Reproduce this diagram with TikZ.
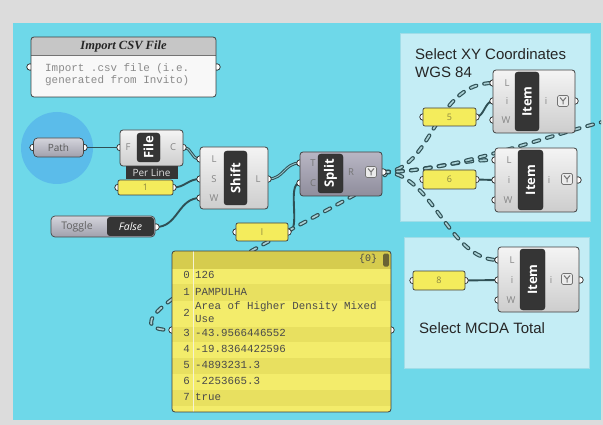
\documentclass[tikz,border=0pt]{standalone}
\usepackage{fontspec}
\setmainfont{Liberation Sans}
\newfontfamily\uifont{Open Sans}
\newfontfamily\panelfont{Liberation Mono}
\newfontfamily\titlefont{Liberation Serif}
\usetikzlibrary{calc}
\pgfdeclarelayer{back}
\pgfdeclarelayer{wires}
\pgfsetlayers{back,wires,main}

\definecolor{outerBg}{HTML}{DCDCDC}
\definecolor{canvasCyan}{HTML}{6ED8E9}
\definecolor{grpFill}{HTML}{C4EDF5}
\definecolor{grpLine}{HTML}{A0DDE8}
\definecolor{haloBlue}{HTML}{5BBCEA}
\definecolor{wireCol}{HTML}{2F5055}
\definecolor{wireLight}{HTML}{8FC3CA}
\definecolor{treeIn}{HTML}{A9D0D5}
\definecolor{compTop}{HTML}{F4F4F4}
\definecolor{compBot}{HTML}{CDCDCD}
\definecolor{splitTop}{HTML}{B8B6C4}
\definecolor{splitBot}{HTML}{8F8D9C}
\definecolor{nickFill}{HTML}{353535}
\definecolor{labelGrey}{HTML}{858585}
\definecolor{pillTop}{HTML}{D4D4DC}
\definecolor{pillBot}{HTML}{A0A0AC}
\definecolor{panelYellow}{HTML}{F4EC5C}
\definecolor{panelText}{HTML}{8C8740}
\definecolor{rowA}{HTML}{F3EC6B}
\definecolor{rowB}{HTML}{E8E060}
\definecolor{headFill}{HTML}{D6CC4E}
\definecolor{cellText}{HTML}{4A4A4A}
\definecolor{knob}{HTML}{6A6434}
\definecolor{noteHead}{HTML}{C6C6C6}
\definecolor{noteBody}{HTML}{F8F8F8}
\definecolor{noteText}{HTML}{8A8A8A}

\tikzset{
  ghbody/.style={draw=black!75, line width=0.8pt, rounded corners=3pt,
    top color=compTop, bottom color=compBot, inner sep=0pt},
  splitbody/.style={ghbody, top color=splitTop, bottom color=splitBot},
  nickbox/.style={fill=nickFill, draw=black!85, line width=0.4pt, rounded corners=3pt,
    inner sep=0pt, rotate=90, text=white, font=\uifont\bfseries\fontsize{13}{13}\selectfont},
  plabel/.style={inner sep=0pt, text=labelGrey, font=\uifont\fontsize{9.5}{9.5}\selectfont},
  port/.style={circle, draw=black!85, fill=white, line width=0.7pt, minimum size=6.5pt, inner sep=0pt},
  pill/.style={draw=black!72, line width=0.7pt, rounded corners=4pt, top color=pillTop,
    bottom color=pillBot, inner sep=0pt, text=black!65, font=\uifont\fontsize{10}{10}\selectfont},
  minipanel/.style={draw=black!75, line width=0.7pt, rounded corners=2pt, fill=panelYellow,
    inner sep=0pt, text=panelText, font=\uifont\fontsize{9}{9}\selectfont},
  grp/.style={draw=grpLine, line width=0.8pt, fill=grpFill, inner sep=0pt},
  grptitle/.style={inner sep=0pt, anchor=west, text=black!85, font=\fontsize{15}{15}\selectfont},
  yicon/.style={draw=black!55, fill=white!92!black, rounded corners=1.5pt, line width=0.7pt,
    minimum size=11pt, inner sep=0pt},
  yglyph/.style={draw=black!55, line width=1pt},
  wire/.style={draw=wireCol, line width=1.9pt},
  listwire/.style={draw=wireCol, line width=1pt, double=wireLight, double distance=0.9pt},
  treewire/.style={draw=wireCol, line width=1.15pt, double=treeIn, double distance=1.7pt,
    dash pattern=on 6pt off 8pt, line cap=round},
  notetext/.style={inner sep=0pt, anchor=west, text=noteText, font=\panelfont\fontsize{10.9}{10.9}\selectfont},
  cell/.style={inner sep=0pt, anchor=west, text height=7pt, text depth=2pt, text=cellText,
    font=\panelfont\fontsize{10.8}{10.8}\selectfont},
  idx/.style={cell, anchor=east},
}

\begin{document}
\begin{tikzpicture}[x=1pt,y=-1pt]
\useasboundingbox (0,0) rectangle (603,425);

% ---------- canvas, halo and groups
\begin{pgfonlayer}{back}
  \fill[outerBg] (0,0) rectangle (603,425);
  \fill[canvasCyan] (13,23) rectangle (601,420);
  \fill[haloBlue] (57,148) circle (36);
  \node[grp, minimum width=190pt, minimum height=188pt] (grpXY) at (495,127) {};
  \node[grp, minimum width=185pt, minimum height=131pt] (grpMCDA) at (496.5,302.5) {};
  \node[grptitle] (grpXYa) at (415,54) {Select XY Coordinates};
  \node[grptitle] (grpXYb) at (415,72) {WGS 84};
  \node[grptitle] (grpMCDAt) at (419,328) {Select MCDA Total};
\end{pgfonlayer}

% ---------- scribble note
\node[port] (noteIn) at (30,67) {};
\node[port] (noteOut) at (217,67) {};
\begin{scope}
  \clip[rounded corners=3pt] (31,37) rectangle (216,97);
  \fill[noteBody] (31,37) rectangle (216,97);
  \fill[noteHead] (31,37) rectangle (216,55);
  \draw[black!55, line width=0.8pt] (31,55) -- (216,55);
\end{scope}
\node[draw=black!75, line width=0.8pt, rounded corners=3pt, minimum width=185pt,
      minimum height=60pt, inner sep=0pt] (note) at (123.5,67) {};
\node[font=\titlefont\bfseries\itshape\fontsize{12.5}{12.5}\selectfont, text=black!85,
      inner sep=0pt] (noteTitle) at (123.5,46) {Import CSV File};
\node[notetext] (noteL1) at (45,69) {Import .csv file (i.e.};
\node[notetext] (noteL2) at (45,81) {generated from Invito)};

% ---------- Path parameter
\node[port] (pathIn) at (33,147.5) {};
\node[port] (pathOut) at (84,147.5) {};
\node[pill, minimum width=50pt, minimum height=19pt] (path) at (58.5,147.5) {Path};

% ---------- File component
\node[fill=nickFill, inner sep=0pt, minimum width=52pt, minimum height=14pt, text=white!88!black,
      font=\uifont\fontsize{10}{10}\selectfont] (perLine) at (151.5,172.5) {Per Line};
\node[port] (fileF) at (120,147.5) {};
\node[port] (fileC) at (183,147.5) {};
\node[ghbody, minimum width=63pt, minimum height=36pt] (file) at (151.5,148) {};
\node[nickbox, minimum width=29pt, minimum height=23pt] (fileNick) at (148.5,147.5) {File};
\node[plabel] (fileFl) at (128,147.5) {F};
\node[plabel] (fileCl) at (173,147.5) {C};

% ---------- number panel feeding Shift
\node[port] (oneIn) at (118,187.5) {};
\node[port] (oneOut) at (173,187.5) {};
\node[minipanel, minimum width=55pt, minimum height=15pt] (one) at (145.5,187.5) {1};

% ---------- Shift component
\node[port] (shiftL) at (200,159) {};
\node[port] (shiftS) at (200,179) {};
\node[port] (shiftW) at (200,198) {};
\node[port] (shiftOut) at (268,179) {};
\node[ghbody, minimum width=68pt, minimum height=62pt] (shift) at (234,178) {};
\node[nickbox, minimum width=54pt, minimum height=23pt] (shiftNick) at (235.5,178) {Shift};
\node[plabel] (shiftLl) at (214,159) {L};
\node[plabel] (shiftSl) at (214,179) {S};
\node[plabel] (shiftWl) at (214,198) {W};
\node[plabel] (shiftOl) at (258,179) {L};

% ---------- Boolean toggle
\node[port] (toggleOut) at (156,227) {};
\node[pill, minimum width=104pt, minimum height=21pt] (toggle) at (103,226.5) {};
\node[inner sep=0pt, text=black!62, font=\uifont\fontsize{10.5}{10.5}\selectfont] (toggleName) at (77,227) {Toggle};
\node[fill=nickFill, rounded corners=3pt, inner sep=0pt, minimum width=47pt, minimum height=19pt,
      text=white, font=\uifont\itshape\fontsize{10.5}{10.5}\selectfont] (toggleVal) at (130.5,226.5) {False};

% ---------- panel feeding Split
\node[port] (lIn) at (236,232) {};
\node[port] (lOut) at (288,232) {};
\node[minipanel, minimum width=52pt, minimum height=18pt] (lPanel) at (262,232) {l};

% ---------- Split component
\node[port] (splitT) at (300,163) {};
\node[port] (splitC) at (300,183) {};
\node[port] (splitR) at (383,172) {};
\node[splitbody, minimum width=82pt, minimum height=44pt] (split) at (341,174) {};
\node[nickbox, minimum width=39pt, minimum height=25pt] (splitNick) at (330.5,173.5) {Split};
\node[plabel, text=black!55] (splitTl) at (313,163) {T};
\node[plabel, text=black!55] (splitCl) at (313,183) {C};
\node[plabel, text=black!55] (splitRl) at (351,172) {R};
\node[yicon] (splitIcon) at (371,172) {};

% ---------- Item components
\node[port] (itemAL) at (493,83) {};
\node[port] (itemAi) at (493,101) {};
\node[port] (itemAW) at (493,120) {};
\node[port] (itemAout) at (575,101) {};
\node[ghbody, minimum width=82pt, minimum height=63pt] (itemA) at (534,101.5) {};
\node[nickbox, minimum width=59pt, minimum height=24pt] (itemANick) at (527,101.5) {Item};
\node[plabel] (itemALl) at (507,83) {L};
\node[plabel] (itemAil) at (507,101) {i};
\node[plabel] (itemAWl) at (506,120) {W};
\node[plabel] (itemAol) at (546,101) {i};
\node[yicon] (itemAIcon) at (563,101) {};

\node[port] (itemBL) at (495,160) {};
\node[port] (itemBi) at (495,180) {};
\node[port] (itemBW) at (495,200) {};
\node[port] (itemBout) at (578,180) {};
\node[ghbody, minimum width=82pt, minimum height=64pt] (itemB) at (536,180) {};
\node[nickbox, minimum width=60pt, minimum height=25pt] (itemBNick) at (530.5,180) {Item};
\node[plabel] (itemBLl) at (509,160) {L};
\node[plabel] (itemBil) at (509,180) {i};
\node[plabel] (itemBWl) at (508,200) {W};
\node[plabel] (itemBol) at (549,180) {i};
\node[yicon] (itemBIcon) at (567,179) {};

\node[port] (itemCL) at (498,260) {};
\node[port] (itemCi) at (498,280) {};
\node[port] (itemCW) at (498,300) {};
\node[port] (itemCout) at (580,280) {};
\node[ghbody, minimum width=81pt, minimum height=65pt] (itemC) at (538.5,279.5) {};
\node[nickbox, minimum width=61pt, minimum height=25pt] (itemCNick) at (532.5,279.5) {Item};
\node[plabel] (itemCLl) at (512,260) {L};
\node[plabel] (itemCil) at (512,280) {i};
\node[plabel] (itemCWl) at (511,300) {W};
\node[plabel] (itemCol) at (551,280) {i};
\node[yicon] (itemCIcon) at (567,279) {};

% graft glyphs inside the icon boxes
\foreach \ic in {splitIcon,itemAIcon,itemBIcon,itemCIcon}{
  \draw[yglyph] ([yshift=-3.5pt]\ic.center) -- (\ic.center)
        -- ([shift={(-3,-3.5)}]\ic.center)
        (\ic.center) -- ([shift={(3,-3.5)}]\ic.center);
}

% ---------- index panels
\node[port] (fiveIn) at (423,117) {};
\node[port] (fiveOut) at (476,117) {};
\node[minipanel, minimum width=53pt, minimum height=18pt] (five) at (449.5,117) {5};
\node[port] (sixIn) at (423,179.5) {};
\node[port] (sixOut) at (476,179.5) {};
\node[minipanel, minimum width=53pt, minimum height=19pt] (six) at (449.5,179.5) {6};
\node[port] (eightIn) at (413,280.5) {};
\node[port] (eightOut) at (465,280.5) {};
\node[minipanel, minimum width=52pt, minimum height=19pt] (eight) at (439,280.5) {8};

% ---------- data panel
\node[port] (bigIn) at (172,330) {};
\node[port] (bigOut) at (391,330) {};
\begin{scope}
  \clip[rounded corners=3pt] (172,251) rectangle (391,412);
  \fill[rowA] (172,251) rectangle (391,412);
  \fill[headFill] (172,251) rectangle (391,269);
  \fill[rowB] (172,284) rectangle (391,301);
  \fill[rowB] (172,327) rectangle (391,342);
  \fill[rowB] (172,358) rectangle (391,374);
  \fill[rowB] (172,390) rectangle (391,406);
  \draw[white!75!headFill, line width=0.6pt] (193,251) -- (193,412);
\end{scope}
\node[draw=black!75, line width=0.8pt, rounded corners=3pt, minimum width=219pt,
      minimum height=161pt, inner sep=0pt] (bigPanel) at (281.5,331.5) {};
\node[fill=knob, rounded corners=1.5pt, minimum width=6pt, minimum height=13pt, inner sep=0pt] (knobBar) at (386,260) {};
\node[cell, anchor=center, font=\panelfont\fontsize{10}{10}\selectfont] (pathIdx) at (368,259) {\{0\}};
\node[idx] (i0) at (190,276) {0}; \node[cell] (c0) at (195,276) {126};
\node[idx] (i1) at (190,293) {1}; \node[cell] (c1) at (195,293) {PAMPULHA};
\node[idx] (i2) at (190,314) {2}; \node[cell] (c2a) at (195,307) {Area of Higher Density Mixed};
                                  \node[cell] (c2b) at (195,320) {Use};
\node[idx] (i3) at (190,334) {3}; \node[cell] (c3) at (195,334) {-43.9566446552};
\node[idx] (i4) at (190,350) {4}; \node[cell] (c4) at (195,350) {-19.8364422596};
\node[idx] (i5) at (190,366) {5}; \node[cell] (c5) at (195,366) {-4893231.3};
\node[idx] (i6) at (190,382) {6}; \node[cell] (c6) at (195,382) {-2253665.3};
\node[idx] (i7) at (190,398) {7}; \node[cell] (c7) at (195,398) {true};

% ---------- wires
\coordinate (offRight) at (606,121);
\begin{pgfonlayer}{wires}
\begin{scope}
  \clip (13,23) rectangle (601,420);
  \draw[wire] (pathOut.center) -- (fileF.center);
  \draw[listwire] (fileC.center) .. controls +(10,0) and +(-10,0) .. (shiftL.center);
  \draw[wire] (oneOut.center) .. controls +(12,0) and +(-12,0) .. (shiftS.center);
  \draw[wire] (toggleOut.center) .. controls +(22,0) and +(-22,0) .. (shiftW.center);
  \draw[listwire] (shiftOut.center) .. controls +(16,0) and +(-16,0) .. (splitT.center);
  \draw[wire] (lOut.center) .. controls +(14,0) and +(-14,0) .. (splitC.center);
  \draw[wire] (fiveOut.center) .. controls +(8,0) and +(-8,0) .. (itemAi.center);
  \draw[wire] (sixOut.center) -- (itemBi.center);
  \draw[wire] (eightOut.center) -- (itemCi.center);
  \draw[treewire] (splitR.center) .. controls +(40,0) and +(-110,0) .. (bigIn.center);
  \draw[treewire] (splitR.center) .. controls +(50,0) and +(-60,0) .. (itemAL.center);
  \draw[treewire] (splitR.center) .. controls +(40,0) and +(-40,0) .. (itemBL.center);
  \draw[treewire] (splitR.center) .. controls +(50,0) and +(-50,0) .. (itemCL.center);
  \draw[treewire] (splitR.center) .. controls +(70,0) and +(-70,18) .. (offRight);
\end{scope}
\end{pgfonlayer}

\end{tikzpicture}
\end{document}
